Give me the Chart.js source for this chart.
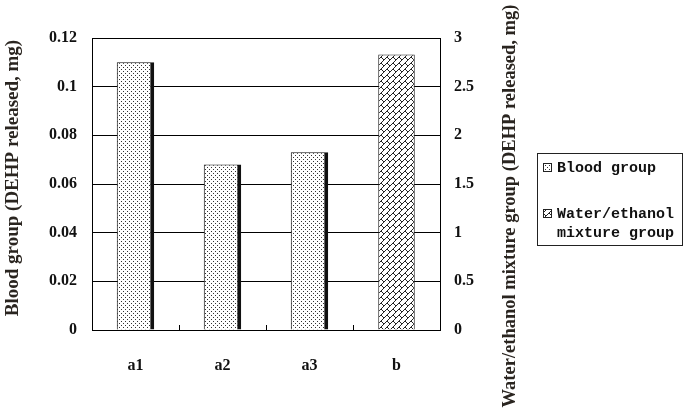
<!DOCTYPE html>
<html>
<head>
<meta charset="utf-8">
<script src="https://cdn.jsdelivr.net/npm/chart.js@4/dist/chart.umd.min.js"></script>
<style>
html,body{margin:0;padding:0;background:#fff;}
#wrap{width:685px;height:411px;}
</style>
</head>
<body>
<div id="wrap"><canvas id="c" width="685" height="411"></canvas></div>
<script>
const categories = ["a1", "a2", "a3", "b"];
const bloodValues = [0.110, 0.068, 0.073, null];
const waterValues = [null, null, null, 2.83];
const leftTicks = [0, 0.02, 0.04, 0.06, 0.08, 0.1, 0.12];
const rightTicks = [0, 0.5, 1, 1.5, 2, 2.5, 3];
const seriesNames = ["Blood group", "Water/ethanol mixture group"];
const leftTitle = "Blood group (DEHP released, mg)";
const rightTitle = "Water/ethanol mixture group (DEHP released, mg)";

function dotPattern() {
  const t = document.createElement('canvas');
  t.width = 4; t.height = 4;
  const g = t.getContext('2d');
  g.fillStyle = '#fff'; g.fillRect(0, 0, 4, 4);
  g.fillStyle = '#333';
  g.fillRect(1, 1, 1, 1);
  g.fillRect(3, 3, 1, 1);
  return g.createPattern(t, 'repeat');
}
function brickPattern() {
  const s = 12;
  const t = document.createElement('canvas');
  t.width = s; t.height = s;
  const g = t.getContext('2d');
  g.fillStyle = '#fff'; g.fillRect(0, 0, s, s);
  g.strokeStyle = '#222'; g.lineWidth = 1;
  g.beginPath();
  g.moveTo(0, 6); g.lineTo(6, 0);
  g.moveTo(0, 12); g.lineTo(12, 0);
  g.moveTo(6, 12); g.lineTo(12, 6);
  g.moveTo(3, 3); g.lineTo(6, 6);
  g.moveTo(9, 9); g.lineTo(12, 12);
  g.moveTo(9, 3); g.lineTo(12, 6);
  g.moveTo(3, 9); g.lineTo(6, 12);
  g.stroke();
  return g.createPattern(t, 'repeat');
}
const dots = dotPattern();
const bricks = brickPattern();

const serif = "'Liberation Serif', 'DejaVu Serif', serif";
const mono = "'Liberation Mono', 'DejaVu Sans Mono', monospace";

const extras = {
  id: 'extras',
  afterDraw(chart) {
    const ctx = chart.ctx;
    const ca = chart.chartArea;
    const xs = chart.scales.x;
    ctx.save();
    ctx.strokeStyle = '#000'; ctx.lineWidth = 1;
    ctx.beginPath();
    for (let i = 0; i < categories.length - 1; i++) {
      const px = Math.round((xs.getPixelForValue(i) + xs.getPixelForValue(i + 1)) / 2) + 0.5;
      ctx.moveTo(px, ca.bottom); ctx.lineTo(px, ca.bottom - 5);
    }
    ctx.stroke();
    ctx.fillStyle = '#2a2520';
    ctx.textAlign = 'center'; ctx.textBaseline = 'middle';
    ctx.font = "bold 19px " + serif;
    ctx.save(); ctx.translate(13, 178); ctx.rotate(-Math.PI / 2); ctx.fillText(leftTitle, 0, 0); ctx.restore();
    ctx.font = "bold 18.5px " + serif;
    ctx.save(); ctx.translate(510, 206); ctx.rotate(-Math.PI / 2); ctx.fillText(rightTitle, 0, 0); ctx.restore();
    ctx.strokeStyle = '#222'; ctx.lineWidth = 1;
    ctx.strokeRect(537.5, 153.5, 145, 92);
    ctx.fillStyle = dots; ctx.fillRect(543, 163, 9, 9);
    ctx.strokeRect(543.5, 163.5, 8, 8);
    ctx.fillStyle = bricks; ctx.fillRect(543, 209, 9, 9);
    ctx.strokeRect(543.5, 209.5, 8, 8);
    ctx.fillStyle = '#111';
    ctx.font = "bold 15px " + mono;
    ctx.textAlign = 'left'; ctx.textBaseline = 'middle';
    ctx.fillText(seriesNames[0], 557, 168);
    ctx.fillText("Water/ethanol", 557, 214);
    ctx.fillText("mixture group", 557, 233);
    ctx.restore();
  }
};

new Chart(document.getElementById('c'), {
  type: 'bar',
  data: {
    labels: categories,
    datasets: [
      {
        label: seriesNames[0], data: bloodValues, yAxisID: 'y',
        backgroundColor: dots, borderColor: '#111',
        borderWidth: {top: 1, left: 1, right: 4, bottom: 0}, borderSkipped: false,
        grouped: false, categoryPercentage: 1, barPercentage: 0.43
      },
      {
        label: seriesNames[1], data: waterValues, yAxisID: 'y1',
        backgroundColor: bricks, borderColor: '#222',
        borderWidth: {top: 1, left: 1, right: 1, bottom: 0}, borderSkipped: false,
        grouped: false, categoryPercentage: 1, barPercentage: 0.42
      }
    ]
  },
  options: {
    responsive: false, animation: false,
    devicePixelRatio: 1,
    layout: {padding: {left: 0, right: 160, top: 38, bottom: 0}},
    plugins: {legend: {display: false}, tooltip: {enabled: false}},
    scales: {
      x: {
        grid: {display: false},
        border: {display: true, color: '#000', width: 1},
        ticks: {color: '#111', font: {family: serif, size: 16, weight: 'bold'}, padding: 18},
        afterFit(s) { s.height = 81; }
      },
      y: {
        position: 'left', min: 0, max: 0.12,
        afterBuildTicks(s) { s.ticks = leftTicks.map(v => ({value: v})); },
        grid: {color: '#000', lineWidth: 1, drawTicks: false},
        border: {display: true, color: '#000', width: 1},
        ticks: {color: '#111', font: {family: serif, size: 16, weight: 'bold'}, padding: 15,
          callback: v => String(+v.toFixed(2))},
        afterFit(s) { s.width = 92; }
      },
      y1: {
        position: 'right', min: 0, max: 3,
        afterBuildTicks(s) { s.ticks = rightTicks.map(v => ({value: v})); },
        grid: {drawOnChartArea: false, drawTicks: false},
        border: {display: true, color: '#000', width: 1},
        ticks: {color: '#111', font: {family: serif, size: 16, weight: 'bold'}, padding: 14,
          callback: v => String(v)},
        afterFit(s) { s.width = 85; }
      }
    }
  },
  plugins: [extras]
});
</script>
</body>
</html>
